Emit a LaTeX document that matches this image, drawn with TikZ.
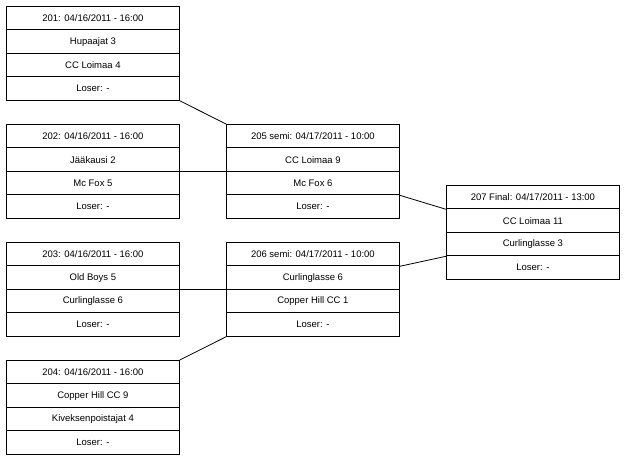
\documentclass[tikz,border=0pt]{standalone}
\usepackage{fontspec}
\setmainfont{Liberation Sans}
\begin{document}
\begin{tikzpicture}[x=1pt,y=-1pt,
  cell/.style={draw=black,line width=0.8pt,minimum width=173pt,minimum height=23.5pt,inner sep=0pt,font=\fontsize{9.5}{11}\selectfont,anchor=north west},
  conn/.style={draw=black,line width=0.8pt}]
\useasboundingbox (0,0) rectangle (625,462);
\newcommand\matchbox[7]{%
  \node[cell] (#1a) at (#2,#3) {#4};
  \node[cell] (#1b) at (#2,#3+23.5) {#5};
  \node[cell] (#1c) at (#2,#3+47) {#6};
  \node[cell] (#1d) at (#2,#3+70.5) {#7};}
\matchbox{b201}{6}{6}{201: 04/16/2011 - 16:00}{Hupaajat 3}{CC Loimaa 4}{Loser: -}
\matchbox{b202}{6}{124}{202: 04/16/2011 - 16:00}{Jääkausi 2}{Mc Fox 5}{Loser: -}
\matchbox{b203}{6}{242}{203: 04/16/2011 - 16:00}{Old Boys 5}{Curlinglasse 6}{Loser: -}
\matchbox{b204}{6}{360}{204: 04/16/2011 - 16:00}{Copper Hill CC 9}{Kiveksenpoistajat 4}{Loser: -}
\matchbox{b205}{226}{124}{205 semi: 04/17/2011 - 10:00}{CC Loimaa 9}{Mc Fox 6}{Loser: -}
\matchbox{b206}{226}{242}{206 semi: 04/17/2011 - 10:00}{Curlinglasse 6}{Copper Hill CC 1}{Loser: -}
\matchbox{b207}{446}{185}{207 Final: 04/17/2011 - 13:00}{CC Loimaa 11}{Curlinglasse 3}{Loser: -}
\draw[conn] (b201d.south east) -- (b205a.north west);
\draw[conn] (b202b.south east) -- (b205b.south west);
\draw[conn] (b203b.south east) -- (b206b.south west);
\draw[conn] (b204a.north east) -- (b206d.south west);
\draw[conn] (b205c.south east) -- (b207a.south west);
\draw[conn] (b206a.south east) -- (b207c.south west);
\end{tikzpicture}
\end{document}
